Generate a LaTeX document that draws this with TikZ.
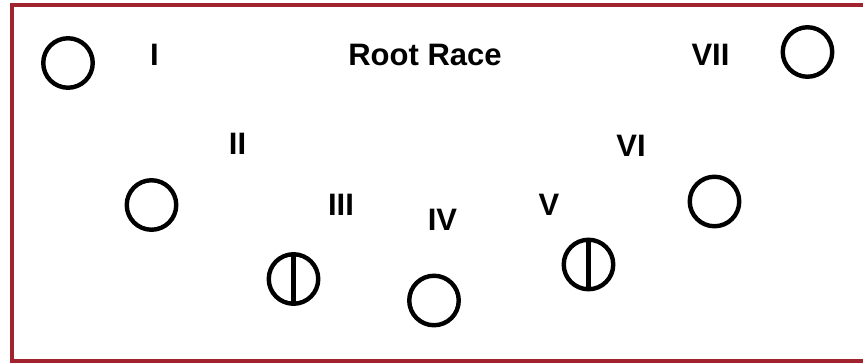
\documentclass[tikz,border=0pt]{standalone}
\usepackage{fontspec}
\setmainfont{Liberation Sans}
\definecolor{framered}{HTML}{A0232D}
\begin{document}
\begin{tikzpicture}[x=1pt,y=1pt,
  race/.style={circle,draw=black,line width=4.4pt,minimum size=49.5pt,inner sep=0pt,outer sep=0pt},
  lbl/.style={anchor=base,inner sep=0pt,font=\fontsize{31}{31}\selectfont\bfseries},
  split/.style={line width=4.4pt}]
\useasboundingbox (0,0) rectangle (863,-362);
\fill[white] (0,0) rectangle (863,-362);
\draw[framered,line width=4pt] (11.5,-5) rectangle (880,-360.5);
% circles
\node[race] (c1) at (68,-63) {};
\node[race] (c2) at (151.5,-205) {};
\node[race] (c3) at (293.5,-279) {};
\node[race] (c4) at (434,-300.5) {};
\node[race] (c5) at (588.5,-264.5) {};
\node[race] (c6) at (714.5,-201.5) {};
\node[race] (c7) at (807.5,-52) {};
\draw[split] (c3.north) -- (c3.south);
\draw[split] (c5.north) -- (c5.south);
% labels
\node[lbl] (title) at (425,-65) {Root Race};
\node[lbl] (l1) at (154.5,-65) {I};
\node[lbl] (l2) at (237.5,-154) {II};
\node[lbl] (l3) at (341,-215) {III};
\node[lbl] (l4) at (442.5,-230) {IV};
\node[lbl] (l5) at (549,-215) {V};
\node[lbl] (l6) at (631,-156) {VI};
\node[lbl] (l7) at (710.5,-65) {VII};
\end{tikzpicture}
\end{document}
